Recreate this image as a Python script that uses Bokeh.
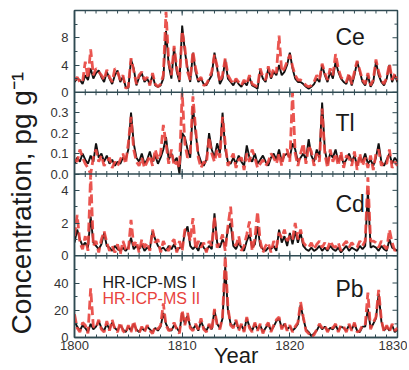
import numpy as np
from bokeh.plotting import figure
from bokeh.layouts import row
from bokeh.models import Range1d, LinearAxis, FixedTicker, Span, Label
from bokeh.core.properties import value
from bokeh.embed import file_html
from bokeh.resources import INLINE

# sample times (quarter-year resolution)
years = [1800 + 0.25 * i for i in range(121)]

ce_black = [1.5, 2.0, 1.8, 1.2, 2.5, 1.8, 3.5, 2.0, 2.8, 3.2, 2.2, 1.5, 3.0, 2.0, 1.2, 2.5,
            3.2, 1.5, 2.3, 0.8, 0.6, 4.8, 3.5, 1.0, 2.2, 2.8, 1.5, 2.0, 1.2, 2.5, 1.0, 0.8,
            1.0, 2.0, 9.0, 4.0, 2.0, 6.5, 3.0, 1.5, 9.8, 6.0, 3.5, 1.5, 5.8, 3.0, 1.5, 2.0,
            1.2, 1.0, 1.8, 2.5, 5.8, 3.5, 1.2, 2.0, 4.8, 2.0, 1.5, 1.0, 1.8, 1.2, 0.8, 1.5,
            1.0, 2.2, 1.0, 0.8, 0.5, 3.2, 2.0, 1.5, 3.5, 2.0, 3.0, 2.5, 4.0, 2.5, 3.0, 4.0,
            5.8, 3.5, 2.0, 1.5, 1.5, 1.2, 0.8, 0.5, 0.8, 1.2, 2.0, 1.5, 4.0, 2.5, 1.5, 3.0,
            2.0, 4.5, 3.0, 2.0, 1.5, 1.2, 2.5, 1.0, 2.5, 4.5, 3.0, 1.5, 1.0, 2.5, 0.8, 1.5,
            4.5, 2.5, 1.5, 1.0, 2.0, 4.0, 1.5, 2.5, 1.5]
ce_red = [1.8, 2.2, 1.5, 1.5, 4.5, 2.0, 6.3, 2.5, 3.5, 3.0, 2.5, 1.8, 3.3, 2.2, 1.5, 3.5,
          3.0, 1.8, 2.5, 0.6, 0.8, 5.0, 3.2, 1.2, 2.5, 3.0, 1.8, 2.2, 1.0, 2.8, 1.2, 0.8,
          1.2, 2.5, 11.8, 4.5, 2.5, 6.8, 3.5, 1.8, 9.0, 6.5, 3.0, 1.8, 6.0, 3.5, 1.8, 2.2,
          1.0, 1.2, 2.0, 3.0, 5.5, 3.8, 1.5, 2.5, 5.0, 2.5, 1.8, 1.2, 2.0, 1.5, 1.0, 1.8,
          1.2, 2.5, 1.2, 1.0, 0.8, 3.5, 2.2, 1.8, 3.8, 2.2, 3.5, 2.8, 8.3, 3.0, 3.5, 4.5,
          5.5, 3.8, 2.5, 1.8, 1.8, 1.5, 1.0, 0.8, 1.0, 1.5, 2.5, 1.8, 4.2, 2.8, 1.8, 3.5,
          2.5, 5.6, 3.5, 2.2, 1.8, 1.5, 2.8, 1.2, 3.0, 4.6, 3.2, 1.8, 1.2, 2.8, 1.0, 1.8,
          4.8, 3.0, 1.8, 1.2, 2.2, 4.2, 1.8, 2.8, 1.8]

tl_black = [0.05, 0.08, 0.06, 0.10, 0.07, 0.05, 0.09, 0.06, 0.15, 0.08, 0.10, 0.06, 0.09, 0.05, 0.07, 0.04,
            0.06, 0.05, 0.08, 0.07, 0.12, 0.30, 0.15, 0.08, 0.06, 0.10, 0.05, 0.07, 0.11, 0.06, 0.09, 0.05,
            0.08, 0.12, 0.18, 0.07, 0.10, 0.06, 0.08, 0.00, 0.20, 0.18, 0.12, 0.08, 0.33, 0.20, 0.10, 0.06,
            0.04, 0.07, 0.20, 0.12, 0.08, 0.15, 0.10, 0.30, 0.12, 0.06, 0.05, 0.08, 0.05, 0.09, 0.06, 0.04,
            0.14, 0.08, 0.06, 0.10, 0.05, 0.07, 0.09, 0.06, 0.04, 0.08, 0.10, 0.07, 0.12, 0.06, 0.09, 0.10,
            0.08, 0.15, 0.12, 0.06, 0.08, 0.10, 0.07, 0.17, 0.09, 0.06, 0.12, 0.08, 0.35, 0.12, 0.05, 0.10,
            0.08, 0.12, 0.06, 0.09, 0.05, 0.07, 0.10, 0.06, 0.09, 0.04, 0.08, 0.06, 0.10, 0.05, 0.07, 0.04,
            0.08, 0.15, 0.06, 0.04, 0.07, 0.10, 0.05, 0.08, 0.06]
tl_red = [0.07, 0.06, 0.12, 0.08, 0.05, 0.03, 0.00, 0.08, 0.12, 0.06, 0.09, 0.04, 0.06, 0.08, 0.03, 0.06,
          0.04, 0.07, 0.10, 0.05, 0.15, 0.28, 0.12, 0.06, 0.04, 0.08, 0.03, 0.06, 0.09, 0.04, 0.12, 0.07,
          0.10, 0.24, 0.15, 0.05, 0.12, 0.04, 0.06, 0.03, 0.45, 0.15, 0.08, 0.10, 0.38, 0.22, 0.08, 0.03,
          0.06, 0.05, 0.18, 0.10, 0.06, 0.12, 0.08, 0.28, 0.15, 0.04, 0.07, 0.10, 0.03, 0.07, 0.08, 0.02,
          0.10, 0.06, 0.12, 0.08, 0.03, 0.05, 0.07, 0.04, 0.06, 0.10, 0.08, 0.05, 0.10, 0.04, 0.11, 0.12,
          0.06, 0.45, 0.10, 0.04, 0.10, 0.15, 0.05, 0.14, 0.11, 0.04, 0.10, 0.06, 0.32, 0.10, 0.03, 0.12,
          0.06, 0.10, 0.04, 0.11, 0.03, 0.09, 0.08, 0.04, 0.11, 0.02, 0.10, 0.04, 0.08, 0.03, 0.09, 0.02,
          0.10, 0.12, 0.04, 0.06, 0.05, 0.12, 0.03, 0.06, 0.04]

cd_black = [0.8, 1.6, 1.0, 0.6, 0.8, 0.5, 2.4, 0.8, 0.6, 0.4, 0.7, 1.4, 0.6, 0.5, 0.3, 0.6,
            0.4, 0.3, 0.5, 0.3, 0.5, 1.1, 0.4, 0.6, 0.4, 0.7, 0.3, 0.5, 0.4, 1.5, 1.0, 0.6,
            0.4, 0.5, 0.3, 0.6, 0.4, 0.7, 0.3, 0.5, 0.5, 1.4, 1.8, 0.6, 0.4, 0.6, 0.3, 0.8,
            0.5, 0.3, 0.6, 0.4, 2.6, 0.8, 0.5, 1.0, 0.6, 1.6, 2.0, 0.6, 0.4, 0.8, 0.5, 0.3,
            0.9, 1.3, 0.5, 0.7, 1.8, 0.6, 0.4, 0.3, 0.5, 0.4, 0.6, 0.3, 1.6, 0.8, 1.2, 0.6,
            1.4, 0.7, 1.5, 0.8, 1.4, 0.6, 0.4, 0.3, 0.5, 0.3, 0.4, 0.6, 0.3, 0.5, 0.3, 0.6,
            0.4, 0.3, 0.5, 0.2, 0.4, 0.6, 0.3, 0.5, 0.4, 0.3, 0.6, 0.4, 0.6, 4.0, 0.5, 0.6,
            0.5, 0.3, 0.6, 0.4, 0.3, 1.0, 0.5, 0.4, 0.3]
cd_red = [1.2, 2.5, 0.8, 0.4, 1.2, 0.3, 5.2, 0.6, 0.9, 0.2, 1.0, 1.5, 0.8, 0.3, 0.6, 0.2,
          0.7, 0.1, 0.9, 0.4, 0.3, 2.2, 0.6, 0.9, 0.2, 1.0, 0.5, 0.8, 0.3, 1.6, 0.8, 1.0,
          0.2, 0.9, 0.5, 0.3, 0.8, 1.0, 0.2, 0.9, 0.3, 1.6, 1.6, 0.9, 2.3, 0.4, 0.9, 0.5,
          0.8, 0.2, 0.9, 0.6, 2.4, 0.5, 0.8, 1.3, 0.3, 1.8, 3.0, 0.8, 0.6, 1.2, 0.3, 0.6,
          1.3, 2.1, 0.3, 1.0, 2.7, 0.9, 0.2, 0.6, 0.8, 0.2, 0.9, 0.5, 1.4, 1.1, 1.6, 0.9,
          1.2, 1.0, 2.0, 1.0, 1.6, 0.8, 0.6, 0.5, 0.8, 0.4, 0.7, 0.9, 0.5, 0.8, 0.4, 0.9,
          0.6, 0.5, 0.8, 0.3, 0.7, 0.9, 0.5, 0.8, 0.6, 0.5, 0.9, 0.6, 0.9, 4.8, 0.9, 0.9,
          0.8, 0.5, 0.9, 0.6, 0.4, 1.6, 0.8, 0.3, 0.5]

pb_black = [12, 8, 5, 9, 7, 4, 10, 6, 8, 12, 7, 5, 10, 6, 11, 7,
            5, 9, 6, 4, 8, 5, 10, 6, 4, 7, 5, 8, 6, 4, 7, 5,
            8, 18, 10, 6, 5, 9, 7, 4, 18, 10, 16, 8, 6, 9, 5, 12,
            7, 5, 9, 6, 20, 10, 7, 14, 52, 20, 10, 8, 12, 6, 9, 5,
            14, 8, 5, 10, 6, 9, 4, 7, 10, 5, 8, 12, 14, 7, 10, 6,
            8, 5, 7, 10, 24, 14, 6, 4, 1, 3, 5, 9, 6, 8, 5, 7,
            6, 9, 5, 8, 7, 5, 9, 6, 10, 5, 4, 8, 8, 21, 7, 10,
            14, 32, 12, 5, 8, 5, 9, 4, 6]
pb_red = [17, 7, 4, 11, 9, 3, 36, 8, 7, 13, 6, 4, 12, 5, 13, 6,
          4, 11, 5, 3, 9, 4, 12, 5, 3, 8, 4, 9, 5, 3, 8, 6,
          9, 25, 9, 5, 6, 11, 6, 3, 20, 9, 18, 7, 5, 10, 6, 14,
          6, 4, 10, 5, 21, 9, 6, 15, 62, 22, 9, 7, 13, 5, 10, 4,
          15, 7, 4, 11, 5, 10, 3, 8, 11, 4, 9, 13, 15, 6, 11, 5,
          9, 4, 8, 11, 26, 15, 5, 3, 0, 2, 6, 10, 7, 9, 4, 8,
          7, 10, 4, 9, 8, 4, 10, 5, 11, 4, 5, 9, 9, 33, 6, 11,
          15, 35, 13, 4, 9, 4, 10, 5, 7]

elements = ["Ce", "Tl", "Cd", "Pb"]
ymax = [12, 0.4, 5, 60]
yticks = [[0, 4, 8], [0.0, 0.1, 0.2, 0.3], [0, 2, 4], [0, 20, 40]]
yminor = [[2, 6, 10], [0.05, 0.15, 0.25, 0.35], [1, 3], [10, 30, 50]]
ylabels = [["0", "4", "8"], ["0.0", "0.1", "0.2", "0.3"], ["0", "2", "4"], ["0", "20", "40"]]
blacks = [ce_black, tl_black, cd_black, pb_black]
reds = [ce_red, tl_red, cd_red, pb_red]
series_names = ["HR-ICP-MS I", "HR-ICP-MS II"]

xticks = [1800, 1810, 1820, 1830]
xminor = list(range(1800, 1831))

FRAME = "#2f4a52"
RED = "#e8433d"
FONT = "Liberation Sans"
TOTAL_H = 370
FRAME_W, FRAME_H = 323, 327
YL_W = 40

p = figure(frame_width=FRAME_W, frame_height=FRAME_H, min_border_left=74 - YL_W,
           min_border_right=10, min_border_top=10, min_border_bottom=0,
           x_range=Range1d(1800, 1830), y_range=Range1d(0, 4),
           output_backend="svg", toolbar_location=None,
           x_axis_location=None, y_axis_location=None)
p.grid.visible = False
p.outline_line_color = FRAME
p.outline_line_width = 1.5
p.background_fill_color = "white"
p.border_fill_color = "white"

major_pos, minor_pos, overrides = [], [], {}
for idx, name in enumerate(elements):
    k = 3 - idx
    M = ymax[idx]
    p.extra_y_ranges[name] = Range1d(-k * M, (4 - k) * M)
    b = np.clip(np.array(blacks[idx], dtype=float), 0, M)
    r = np.clip(np.array(reds[idx], dtype=float), 0, M)
    p.line(years, b, y_range_name=name, line_color="#111111", line_width=1.9)
    p.line(years, r, y_range_name=name, line_color=RED, line_width=2.8,
           line_dash="9 4", line_alpha=0.9)
    for v, lab in zip(yticks[idx], ylabels[idx]):
        pos = k + v / M
        major_pos.append(pos)
        overrides[pos] = lab
    for v in yminor[idx]:
        minor_pos.append(k + v / M)


def style_axis(ax):
    ax.axis_line_color = FRAME
    ax.axis_line_width = 1.5
    ax.major_tick_in = 5
    ax.major_tick_out = 0
    ax.minor_tick_in = 3
    ax.minor_tick_out = 0
    ax.major_tick_line_color = FRAME
    ax.minor_tick_line_color = FRAME
    ax.major_label_text_font = FONT
    ax.major_label_text_font_size = "13px"
    ax.major_label_text_color = "#333333"


left = LinearAxis(ticker=FixedTicker(ticks=major_pos, minor_ticks=minor_pos),
                  major_label_overrides=overrides)
style_axis(left)
left.major_label_standoff = 6
p.add_layout(left, "left")

bottom = LinearAxis(ticker=FixedTicker(ticks=xticks, minor_ticks=xminor),
                    axis_label="Year")
style_axis(bottom)
bottom.major_label_standoff = 3
bottom.axis_label_text_font = FONT
bottom.axis_label_text_font_size = "22px"
bottom.axis_label_text_font_style = "normal"
bottom.axis_label_text_color = "#1a1a1a"
bottom.axis_label_standoff = -10
p.add_layout(bottom, "below")

# inward ticks on the top edge, the right edge and both sides of each separator
ppu_y = FRAME_H / 4.0
ppu_x = FRAME_W / 30.0
dM, dm = 5 / ppu_y, 3 / ppu_y
for s, sides in [(4, (-1,)), (3, (-1, 1)), (2, (-1, 1)), (1, (-1, 1))]:
    if s < 4:
        p.add_layout(Span(location=s, dimension="width", line_color=FRAME, line_width=1.5))
    for sgn in sides:
        p.segment(x0=xticks, y0=[s] * len(xticks), x1=xticks, y1=[s + sgn * dM] * len(xticks),
                  line_color=FRAME, line_width=1)
        p.segment(x0=xminor, y0=[s] * len(xminor), x1=xminor, y1=[s + sgn * dm] * len(xminor),
                  line_color=FRAME, line_width=1)
xr = 1830
p.segment(x0=[xr] * len(major_pos), y0=major_pos, x1=[xr - 5 / ppu_x] * len(major_pos),
          y1=major_pos, line_color=FRAME, line_width=1)
p.segment(x0=[xr] * len(minor_pos), y0=minor_pos, x1=[xr - 3 / ppu_x] * len(minor_pos),
          y1=minor_pos, line_color=FRAME, line_width=1)

# element labels
label_y = [3.670, 2.618, 1.639, 0.599]
for name, ly in zip(elements, label_y):
    p.add_layout(Label(x=1824.24, y=ly, text=name, text_font=FONT, text_font_size="23px",
                       text_baseline="alphabetic", text_color="#1a1a1a"))

# legend texts
p.add_layout(Label(x=1802.6, y=0.673, text=series_names[0], text_font=FONT, text_font_size="16px",
                   text_baseline="alphabetic", text_color="#1a1a1a"))
p.add_layout(Label(x=1802.6, y=0.477, text=series_names[1], text_font=FONT, text_font_size="16px",
                   text_baseline="alphabetic", text_color=RED))

# y title in a narrow figure on the left
yl = figure(width=YL_W, height=TOTAL_H, x_range=Range1d(0, YL_W), y_range=Range1d(0, TOTAL_H),
            min_border=0, output_backend="svg", toolbar_location=None,
            x_axis_location=None, y_axis_location=None)
yl.grid.visible = False
yl.outline_line_color = None
yl.background_fill_color = "white"
yl.border_fill_color = "white"
yl.text(x=[21], y=[TOTAL_H - 218], text=["Concentration, pg g\u207b\u00b9"],
        angle=np.pi / 2, text_align="center", text_baseline="middle",
        text_font=value(FONT), text_font_size="28px", text_color="#1a1a1a")

layout = row(yl, p, spacing=0)
open("out.html", "w").write(file_html(layout, INLINE))
